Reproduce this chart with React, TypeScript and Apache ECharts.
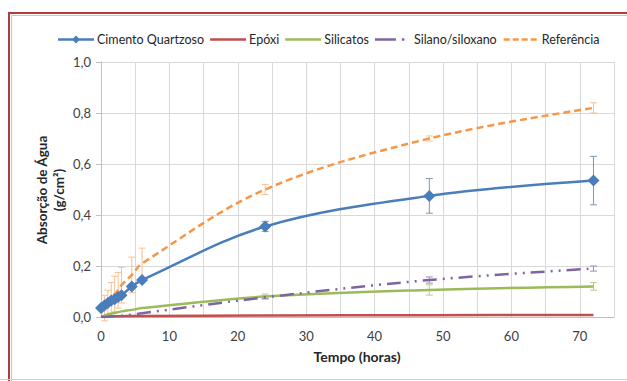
import React, { useEffect, useRef } from "react";
import * as echarts from "echarts";

const times = [0, 0.5, 1, 1.5, 2, 2.5, 3, 4.5, 6, 24, 48, 72];
const cimentoQuartzoso = [0.035, 0.045, 0.055, 0.065, 0.07, 0.078, 0.085, 0.12, 0.145, 0.355, 0.475, 0.535];
const cimentoErr = [0, 0, 0, 0, 0, 0, 0, 0, 0, 0.02, 0.068, 0.095];
const epoxi = [0.002, 0.002, 0.003, 0.003, 0.003, 0.003, 0.003, 0.004, 0.004, 0.006, 0.007, 0.008];
const silicatos = [0.0, 0.005, 0.01, 0.013, 0.016, 0.019, 0.022, 0.028, 0.035, 0.08, 0.106, 0.12];
const silicatosErr = [0, 0, 0, 0, 0, 0, 0, 0, 0, 0.01, 0.02, 0.015];
const silano = [0.0, 0.0, 0.001, 0.002, 0.003, 0.004, 0.005, 0.009, 0.015, 0.077, 0.145, 0.19];
const silanoErr = [0, 0, 0, 0, 0, 0, 0, 0, 0, 0.005, 0.012, 0.01];
const referencia = [0.015, 0.035, 0.055, 0.075, 0.09, 0.105, 0.125, 0.165, 0.21, 0.5, 0.7, 0.82];
const referenciaErr = [0, 0.05, 0.05, 0.06, 0.07, 0.07, 0.07, 0.07, 0.06, 0.02, 0.01, 0.02];
const xTicks = [0, 10, 20, 30, 40, 50, 60, 70];
const seriesNames = ["Cimento Quartzoso", "Epóxi", "Silicatos", "Silano/siloxano", "Referência"];

const FONT = "Lato";

// legend icons, drawn in a 36 x 12 box (tiny corner squares keep the box size)
const CORNERS = "M0,0h0.01v0.01h-0.01z M35.99,11.99h0.01v0.01h-0.01z";
const ICON_SOLID = "path://" + CORNERS + " M0,4.75h36v2.5h-36z";
const ICON_DIAMOND = "path://" + CORNERS + " M0,4.75h36v2.5h-36z M18,2L22,6L18,10L14,6z";
const ICON_DASH = "path://" + CORNERS + " M1,4.75h6v2.5h-6z M10,4.75h6v2.5h-6z M19,4.75h6v2.5h-6z M28,4.75h6v2.5h-6z";
const ICON_DASHDOT = "path://" + CORNERS + " M0,4.75h21v2.5h-21z M27,4.75h2.5v2.5h-2.5z";
const legendIcons = [ICON_DIAMOND, ICON_SOLID, ICON_SOLID, ICON_DASHDOT, ICON_DASH];

function pairs(vals: number[]) {
  return times.map((t, i) => [t, vals[i]]);
}

function errData(vals: number[], errs: number[]) {
  return times
    .map((t, i) => [t, vals[i], errs[i]])
    .filter((d) => d[2] > 0);
}

function errorSeries(name: string, vals: number[], errs: number[], color: string) {
  return {
    type: "custom",
    name: name + "_err",
    data: errData(vals, errs),
    encode: { x: 0, y: 1 },
    z: 3,
    silent: true,
    renderItem: (params: any, api: any) => {
      const x = api.value(0);
      const y = api.value(1);
      const e = api.value(2);
      const top = api.coord([x, y + e]);
      const bot = api.coord([x, y - e]);
      const w = 3.5;
      const st = { stroke: color, lineWidth: 1 };
      return {
        type: "group",
        children: [
          { type: "line", shape: { x1: top[0], y1: top[1], x2: bot[0], y2: bot[1] }, style: st },
          { type: "line", shape: { x1: top[0] - w, y1: top[1], x2: top[0] + w, y2: top[1] }, style: st },
          { type: "line", shape: { x1: bot[0] - w, y1: bot[1], x2: bot[0] + w, y2: bot[1] }, style: st },
        ],
      };
    },
  };
}

export default function App() {
  const ref = useRef<HTMLDivElement>(null);
  useEffect(() => {
    if (!ref.current) return;
    const chart = echarts.init(ref.current, undefined, { renderer: "svg" });
    const blue = "#4a7ebb";
    const red = "#c0504d";
    const green = "#9bbb59";
    const purple = "#8064a2";
    const orange = "#f79646";
    chart.setOption({
      animation: false,
      backgroundColor: "#ffffff",
      textStyle: { fontFamily: FONT },
      grid: { left: 101, right: 13, top: 62, bottom: 64, containLabel: false },
      legend: {
        data: seriesNames.map((n, i) => ({ name: n, icon: legendIcons[i] })),
        left: 53,
        top: 28,
        itemWidth: 36,
        itemHeight: 12,
        itemGap: 6,
        textStyle: { fontFamily: FONT, fontSize: 12.5, color: "#262626", padding: [0, 0, 0, -2] },
      },
      xAxis: {
        type: "value",
        min: 0,
        max: 75,
        interval: 5,
        axisLine: { show: true, lineStyle: { color: "#bfbfbf" } },
        axisTick: { show: false },
        splitLine: { show: true, lineStyle: { color: "#d9d9d9", width: 1 } },
        axisLabel: {
          fontFamily: FONT,
          fontSize: 13,
          color: "#404040",
          margin: 12,
          formatter: (v: number) => (xTicks.indexOf(v) >= 0 ? String(v) : ""),
        },
      },
      yAxis: {
        type: "value",
        min: 0,
        max: 1,
        interval: 0.2,
        axisLine: { show: true, lineStyle: { color: "#bfbfbf" } },
        axisTick: { show: true, length: 5, lineStyle: { color: "#bfbfbf" } },
        splitLine: { show: true, lineStyle: { color: "#d9d9d9", width: 1 } },
        axisLabel: {
          fontFamily: FONT,
          fontSize: 13,
          color: "#404040",
          margin: 10,
          formatter: (v: number) => v.toFixed(1).replace(".", ","),
        },
      },
      series: [
        errorSeries("Referência", referencia, referenciaErr, "#f9c08f"),
        errorSeries("Cimento Quartzoso", cimentoQuartzoso, cimentoErr, "#7f96b2"),
        errorSeries("Silicatos", silicatos, silicatosErr, "#b8cf86"),
        errorSeries("Silano/siloxano", silano, silanoErr, "#9f8cba"),
        {
          type: "line",
          name: "Cimento Quartzoso",
          data: pairs(cimentoQuartzoso),
          smooth: 0.35,
          symbol: "diamond",
          symbolSize: 12,
          showSymbol: true,
          itemStyle: { color: blue },
          lineStyle: { color: blue, width: 2.5 },
          z: 5,
        },
        {
          type: "line",
          name: "Epóxi",
          data: pairs(epoxi),
          smooth: 0.35,
          symbol: "none",
          itemStyle: { color: red },
          lineStyle: { color: red, width: 2.5 },
          z: 4,
        },
        {
          type: "line",
          name: "Silicatos",
          data: pairs(silicatos),
          smooth: 0.35,
          symbol: "none",
          itemStyle: { color: green },
          lineStyle: { color: green, width: 2.5 },
          z: 4,
        },
        {
          type: "line",
          name: "Silano/siloxano",
          data: pairs(silano),
          smooth: 0.35,
          symbol: "none",
          itemStyle: { color: purple },
          lineStyle: { color: purple, width: 2.5, type: [14, 6, 2, 6, 2, 6] },
          z: 4,
        },
        {
          type: "line",
          name: "Referência",
          data: pairs(referencia),
          smooth: 0.35,
          symbol: "none",
          itemStyle: { color: orange },
          lineStyle: { color: orange, width: 2.5, type: [7, 4] },
          z: 4,
        },
      ],
      graphic: [
        {
          type: "rect",
          shape: { x: 9, y: 13, width: 700, height: 400 },
          style: { fill: "none", stroke: "#b23b3b", lineWidth: 2 },
          silent: true,
        },
        {
          type: "rect",
          shape: { x: 11.5, y: 15.5, width: 700, height: 400 },
          style: { fill: "none", stroke: "#c8c8c8", lineWidth: 1 },
          silent: true,
        },
        {
          type: "line",
          shape: { x1: 0, y1: 379.5, x2: 627, y2: 379.5 },
          style: { stroke: "#d0d0d0", lineWidth: 1 },
          silent: true,
        },
        {
          type: "text",
          x: 50,
          y: 190,
          rotation: Math.PI / 2,
          style: {
            text: "Absorção de Água\n(g/cm²)",
            font: "bold 13.5px " + FONT,
            fill: "#262626",
            textAlign: "center",
            textVerticalAlign: "middle",
            lineHeight: 17,
          },
        },
        {
          type: "text",
          x: 357,
          y: 356,
          style: {
            text: "Tempo (horas)",
            font: "bold 14px " + FONT,
            fill: "#262626",
            textAlign: "center",
            textVerticalAlign: "middle",
          },
        },
      ],
    });
    return () => chart.dispose();
  }, []);
  return (
    <div
      ref={ref}
      style={{ position: "absolute", left: 0, top: 0, width: 627, height: 381 }}
    />
  );
}
